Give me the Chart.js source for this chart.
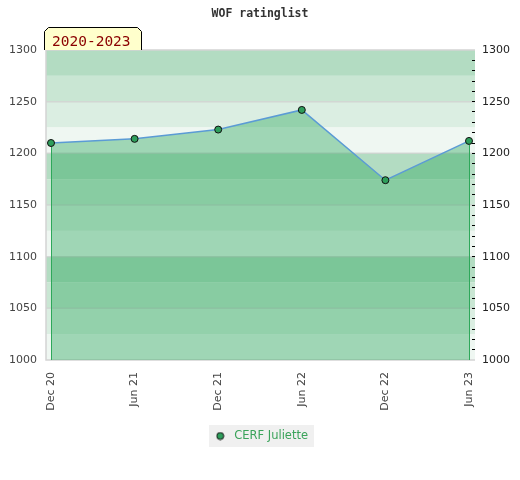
<!DOCTYPE html>
<html>
<head>
<meta charset="utf-8">
<script src="https://cdn.jsdelivr.net/npm/chart.js@4"></script>
<style>
html,body{margin:0;padding:0;background:#fff;}
#c{display:block;}
</style>
</head>
<body>
<canvas id="c" width="520" height="480"></canvas>
<script>
const categories = ['Dec 20', 'Jun 21', 'Dec 21', 'Jun 22', 'Dec 22', 'Jun 23'];
const ratings = [1210, 1214, 1223, 1242, 1174, 1212];
const seriesName = 'CERF Juliette';
const chartTitle = 'WOF ratinglist';
const periodLabel = '2020-2023';
const yMin = 1000, yMax = 1300;

const bandColors = ['#b3dcc2', '#c9e6d3', '#dbeee2', '#eff7f2'];
const pointGreen = '#2e9e5b';

// legend marker image
const marker = document.createElement('canvas');
marker.width = 9; marker.height = 9;
(function(){
  const m = marker.getContext('2d');
  m.beginPath(); m.arc(4.5, 4.5, 3.5, 0, Math.PI*2);
  m.fillStyle = pointGreen; m.fill();
  m.lineWidth = 1; m.strokeStyle = '#111'; m.stroke();
})();

const decor = {
  id: 'decor',
  beforeDraw(chart) {
    const ctx = chart.ctx, a = chart.chartArea, y = chart.scales.y;
    const L = a.left - 5, R = a.right + 6;
    ctx.save();
    // bands
    let i = 0;
    for (let v = yMax; v > yMin; v -= 25, i++) {
      const t = y.getPixelForValue(v), b = y.getPixelForValue(v - 25);
      ctx.fillStyle = bandColors[i % 4];
      ctx.fillRect(L, t, R - L, b - t);
    }
    // grid lines
    ctx.strokeStyle = 'rgba(205,205,205,0.7)';
    ctx.lineWidth = 1.5;
    y.ticks.forEach(tk => {
      if (tk.value === yMin || tk.value === yMax) return;
      const p = y.getPixelForValue(tk.value);
      ctx.beginPath(); ctx.moveTo(L, p); ctx.lineTo(R, p); ctx.stroke();
    });
    // border
    ctx.strokeStyle = '#d4d4d4';
    ctx.lineWidth = 1.5;
    ctx.beginPath();
    ctx.moveTo(R, a.top); ctx.lineTo(L, a.top); ctx.lineTo(L, a.bottom); ctx.lineTo(R, a.bottom);
    ctx.stroke();
    // legend background
    const hb = chart.legend && chart.legend.legendHitBoxes && chart.legend.legendHitBoxes[0];
    if (hb) {
      ctx.fillStyle = '#f0f0f0';
      ctx.fillRect(hb.left - 3, hb.top + hb.height/2 - 11, hb.width + 9, 22);
    }
    ctx.restore();
  },
  afterDatasetsDraw(chart) {
    const ctx = chart.ctx, a = chart.chartArea;
    const pts = chart.getDatasetMeta(0).data;
    ctx.save();
    ctx.strokeStyle = '#2ea85a';
    ctx.lineWidth = 1;
    [pts[0], pts[pts.length - 1]].forEach(p => {
      const x = Math.round(p.x) + 0.5;
      ctx.beginPath(); ctx.moveTo(x, p.y + 4); ctx.lineTo(x, a.bottom); ctx.stroke();
    });
    ctx.restore();
  },
  afterDraw(chart) {
    const ctx = chart.ctx, a = chart.chartArea;
    const x0 = a.left - 6.5, x1 = a.left + 90.5, y0 = a.top - 22.5, y1 = a.top, c = 4;
    ctx.save();
    ctx.beginPath();
    ctx.moveTo(x0, y1); ctx.lineTo(x0, y0 + c); ctx.lineTo(x0 + c, y0);
    ctx.lineTo(x1 - c, y0); ctx.lineTo(x1, y0 + c); ctx.lineTo(x1, y1);
    ctx.fillStyle = '#ffffcc'; ctx.fill();
    ctx.strokeStyle = '#000'; ctx.lineWidth = 1; ctx.stroke();
    ctx.fillStyle = '#8b0000';
    ctx.font = '14.5px "DejaVu Sans Mono"';
    ctx.textBaseline = 'alphabetic';
    ctx.fillText(periodLabel, a.left + 1, a.top - 4.5);
    ctx.restore();
  }
};

new Chart(document.getElementById('c'), {
  type: 'line',
  data: {
    labels: categories,
    datasets: [{
      label: seriesName,
      data: ratings,
      borderColor: '#5b9bd5',
      borderWidth: 1.5,
      backgroundColor: 'rgba(40,165,90,0.4)',
      fill: 'start',
      tension: 0,
      pointRadius: 3.5,
      pointHoverRadius: 3.5,
      pointBackgroundColor: pointGreen,
      pointBorderColor: '#111',
      pointBorderWidth: 1
    }]
  },
  options: {
    responsive: false,
    animation: false,
    devicePixelRatio: 1,
    layout: { padding: { left: 0, right: 0, top: 0, bottom: 28.25 } },
    plugins: {
      title: {
        display: true,
        text: chartTitle,
        color: '#333',
        font: { family: 'DejaVu Sans Mono', size: 11.5, weight: 'bold' },
        padding: { top: 7, bottom: 29.2 }
      },
      legend: {
        position: 'bottom',
        labels: {
          usePointStyle: true,
          pointStyle: marker,
          pointStyleWidth: 16.5,
          boxHeight: 5,
          padding: 10,
          color: '#3aa35a',
          font: { family: 'DejaVu Sans', size: 11.5 }
        }
      },
      tooltip: { enabled: false }
    },
    scales: {
      x: {
        type: 'category',
        grid: { display: false, drawTicks: false },
        border: { display: false },
        ticks: {
          maxRotation: 90, minRotation: 90, autoSkip: false,
          padding: 12, color: '#444',
          font: { family: 'DejaVu Sans', size: 11 }
        },
        afterFit(s) { s.height = 60.25; }
      },
      y: {
        position: 'left',
        min: yMin, max: yMax,
        grid: { display: false, drawTicks: false },
        border: { display: false },
        ticks: {
          stepSize: 50, padding: 14, color: '#444',
          font: { family: 'DejaVu Sans', size: 11 },
          callback: (v) => String(v)
        },
        afterFit(s) { s.width = 51; }
      },
      y2: {
        position: 'right',
        min: yMin, max: yMax,
        grid: {
          drawOnChartArea: false, drawTicks: true, tickLength: 6,
          tickBorderDash: [0, 3, 3, 10], tickWidth: 1,
          tickColor: (ctx) => (ctx.tick && (ctx.tick.value === yMin || ctx.tick.value === yMax)) ? 'rgba(0,0,0,0)' : '#000'
        },
        border: { display: false },
        ticks: {
          stepSize: 10, autoSkip: false, padding: 7, color: '#222',
          font: { family: 'DejaVu Sans', size: 11 },
          callback: (v) => (v % 50 === 0 ? String(v) : '')
        },
        afterFit(s) { s.width = 51; }
      }
    }
  },
  plugins: [decor]
});
</script>
</body>
</html>
